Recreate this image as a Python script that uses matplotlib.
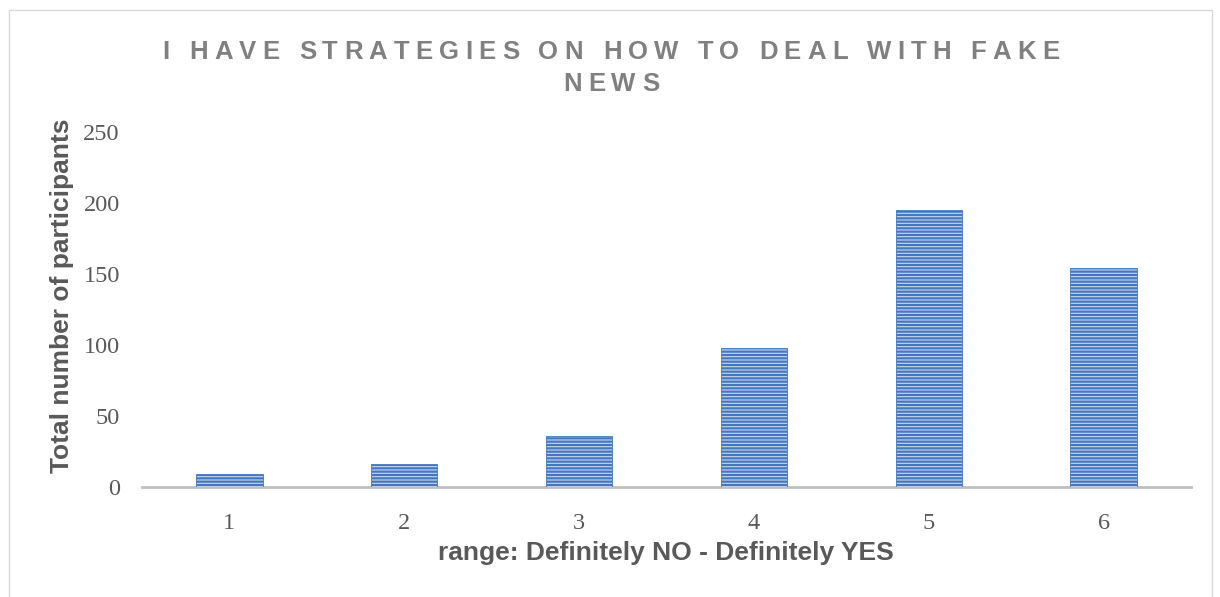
import matplotlib
matplotlib.use("Agg")
import matplotlib.pyplot as plt
from matplotlib.font_manager import FontProperties
from matplotlib.patches import Rectangle

# Survey answers on a 1-6 scale
categories = ["1", "2", "3", "4", "5", "6"]
counts = [9, 16, 36, 98, 195, 154]
y_ticks = [0, 50, 100, 150, 200, 250]

title_lines = ["I HAVE STRATEGIES ON HOW TO DEAL WITH FAKE", "NEWS"]
x_label = "range: Definitely NO - Definitely YES"
y_label = "Total number of participants"

W, H, DPI = 1220, 597, 100
BAR_DARK = "#4577C0"
BAR_LIGHT = "#C8D8EF"
AXIS_GRAY = "#BFBFBF"
TEXT_GRAY = "#595959"
TITLE_GRAY = "#808080"

plt.rcParams["hatch.linewidth"] = 1.6

fig = plt.figure(figsize=(W / DPI, H / DPI), dpi=DPI)
fig.patch.set_facecolor("white")

# outer chart frame
fig.add_artist(Rectangle((9 / W, -0.01), (1212 - 9) / W, 1 - 10 / H + 0.01,
                         transform=fig.transFigure, fill=False,
                         edgecolor="#D9D9D9", linewidth=1.0))

ax = fig.add_axes([142 / W, 1 - 487 / H, (1191 - 142) / W, (487 - 132) / H])
x = list(range(len(categories)))
ax.bar(x, counts, width=0.38, color=BAR_LIGHT, edgecolor=BAR_DARK,
       linewidth=0.6, hatch="-----", zorder=3)

ax.set_xlim(-0.5, len(categories) - 0.5)
ax.set_ylim(0, 250)
ax.set_yticks(y_ticks)
ax.set_xticks(x)
ax.set_xticklabels(categories)
for s in ("top", "right", "left"):
    ax.spines[s].set_visible(False)
ax.spines["bottom"].set_color(AXIS_GRAY)
ax.spines["bottom"].set_linewidth(2.0)
ax.spines["bottom"].set_zorder(2)
ax.tick_params(axis="both", length=0, colors=TEXT_GRAY)
ax.tick_params(axis="y", pad=16)
ax.tick_params(axis="x", pad=19)
for lab in ax.get_xticklabels() + ax.get_yticklabels():
    lab.set_fontfamily("Liberation Serif")
    lab.set_fontsize(17.5)
    lab.set_color(TEXT_GRAY)

fig.text(666 / W, 1 - 553 / H, x_label, ha="center", va="center",
         fontfamily="Liberation Sans", fontweight="bold", fontsize=19,
         color=TEXT_GRAY)
fig.text(62 / W, 1 - 296 / H, y_label, rotation=90, ha="center", va="center",
         fontfamily="Liberation Sans", fontweight="bold", fontsize=19,
         color=TEXT_GRAY)

# letter-spaced title, placed character by character
fig.canvas.draw()
renderer = fig.canvas.get_renderer()
tprops = FontProperties(family="Liberation Sans", weight="bold", size=18.5)


def advance(ch):
    if ch == " ":
        w_a, _, _ = renderer.get_text_width_height_descent("a a", tprops, ismath=False)
        w_b, _, _ = renderer.get_text_width_height_descent("aa", tprops, ismath=False)
        return w_a - w_b
    w, _, _ = renderer.get_text_width_height_descent(ch, tprops, ismath=False)
    return w


first = title_lines[0]
natural = sum(advance(c) for c in first)
spacing = (897 - natural) / (len(first) - 1)
center_x = 611
for line, yc in zip(title_lines, [52, 84]):
    widths = [advance(c) for c in line]
    total = sum(widths) + spacing * (len(line) - 1)
    xpos = center_x - total / 2
    for c, w in zip(line, widths):
        if c != " ":
            fig.text(xpos / W, 1 - yc / H, c, fontproperties=tprops,
                     color=TITLE_GRAY, ha="left", va="center")
        xpos += w + spacing

fig.savefig("out.png", dpi=DPI)
